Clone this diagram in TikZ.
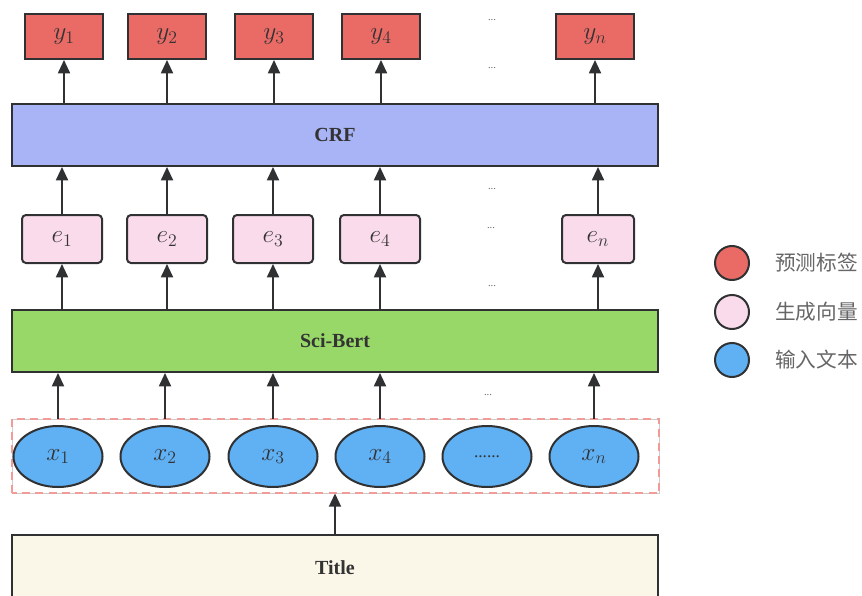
\RequirePackage{fix-cm}
\documentclass[tikz,border=0pt]{standalone}
\usepackage{fontspec}
\setmainfont{Liberation Serif}
\newfontfamily\cjkfont{Noto Sans CJK SC}
\usetikzlibrary{arrows.meta,shapes.geometric}

\definecolor{linec}{HTML}{2F3133}
\definecolor{txtc}{HTML}{333333}
\definecolor{redc}{HTML}{EA6B66}
\definecolor{crfc}{HTML}{A9B4F7}
\definecolor{bertc}{HTML}{97D869}
\definecolor{pinkc}{HTML}{FADBEB}
\definecolor{bluec}{HTML}{60B0F4}
\definecolor{creamc}{HTML}{FAF7E9}
\definecolor{dashc}{HTML}{F19C99}
\definecolor{legtxt}{HTML}{666666}

\tikzset{
  ln/.style={draw=linec, line width=1.5pt},
  mathfont/.style={font=\fontsize{19}{22}\selectfont, text=txtc},
  ybox/.style={ln, fill=redc, minimum width=58.5pt, minimum height=33.75pt, inner sep=0pt, mathfont},
  ebox/.style={ln, fill=pinkc, rounded corners=3pt, minimum width=60pt, minimum height=36pt, inner sep=0pt, mathfont},
  layer/.style={ln, minimum width=484.5pt, minimum height=46.5pt, inner sep=0pt,
                font=\fontsize{15}{18}\selectfont\bfseries, text=txtc},
  tok/.style={ellipse, ln, fill=bluec, minimum width=66.75pt, minimum height=45.75pt, inner sep=0pt, mathfont},
  arr/.style={draw=linec, line width=1.4pt, -{Triangle[width=9pt,length=10pt]}},
  dotsn/.style={font=\fontsize{8}{9}\selectfont, text=legtxt, inner sep=0pt},
  legc/.style={circle, ln, minimum size=25.5pt, inner sep=0pt},
  legt/.style={anchor=west, inner sep=0pt, font=\cjkfont\fontsize{15.5}{18}\selectfont, text=legtxt},
}

\begin{document}
\begin{tikzpicture}[x=0.75pt, y=-0.75pt]
  \useasboundingbox (0,0) rectangle (862,595);

  % output labels
  \node[ybox] (y1) at (64,36.5)  {$y_1$};
  \node[ybox] (y2) at (167,36.5) {$y_2$};
  \node[ybox] (y3) at (274,36.5) {$y_3$};
  \node[ybox] (y4) at (381,36.5) {$y_4$};
  \node[ybox] (yn) at (595,36.5) {$y_n$};

  % CRF layer
  \node[layer, fill=crfc] (crf) at (335,135) {CRF};

  % embedding vectors
  \node[ebox] (e1) at (62,239)  {$e_1$};
  \node[ebox] (e2) at (167,239) {$e_2$};
  \node[ebox] (e3) at (273,239) {$e_3$};
  \node[ebox] (e4) at (380,239) {$e_4$};
  \node[ebox, minimum width=54pt] (en) at (598,239) {$e_n$};

  % encoder
  \node[layer, fill=bertc] (bert) at (335,341) {Sci-Bert};

  % input tokens inside a dashed frame
  \node[draw=black!20, line width=0.6pt, minimum width=485.25pt, minimum height=55.5pt, inner sep=0pt]
       (inbox) at (335.5,456) {};
  \draw[draw=dashc, line width=1.5pt, dash pattern=on 6pt off 4pt]
       (inbox.south west) rectangle (inbox.north east);
  \node[tok] (x1) at (58,456.5)  {$x_1$};
  \node[tok] (x2) at (165,456.5) {$x_2$};
  \node[tok] (x3) at (273,456.5) {$x_3$};
  \node[tok] (x4) at (380,456.5) {$x_4$};
  \node[tok, font=\fontsize{13}{15}\selectfont] (xd) at (487,456.5) {......};
  \node[tok] (xn) at (594,456.5) {$x_n$};

  % source text
  \node[layer, fill=creamc, minimum height=49.5pt] (title) at (335,568) {Title};

  % connectors
  \foreach \n in {1,2,3,4,n} {
    \draw[arr] (crf.north -| y\n.south) -- (y\n.south);
    \draw[arr] (e\n.north) -- (crf.south -| e\n.north);
    \draw[arr] (bert.north -| e\n.south) -- (e\n.south);
    \draw[arr] (inbox.north -| x\n.north) -- (bert.south -| x\n.north);
  }
  \draw[arr] (title.north) -- (inbox.south -| title.north);

  % ellipsis marks between columns
  \node[dotsn] (d1) at (492,20)  {...};
  \node[dotsn] (d2) at (492,68)  {...};
  \node[dotsn] (d3) at (492,189) {...};
  \node[dotsn] (d4) at (491,228) {...};
  \node[dotsn] (d5) at (492,286) {...};
  \node[dotsn] (d6) at (488,395) {...};

  % legend
  \node[legc, fill=redc]  (l1) at (732,263) {};
  \node[legc, fill=pinkc] (l2) at (732,312) {};
  \node[legc, fill=bluec] (l3) at (732,360) {};
  \node[legt] (t1) at (775,263) {预测标签};
  \node[legt] (t2) at (775,312) {生成向量};
  \node[legt] (t3) at (775,360) {输入文本};
\end{tikzpicture}
\end{document}
